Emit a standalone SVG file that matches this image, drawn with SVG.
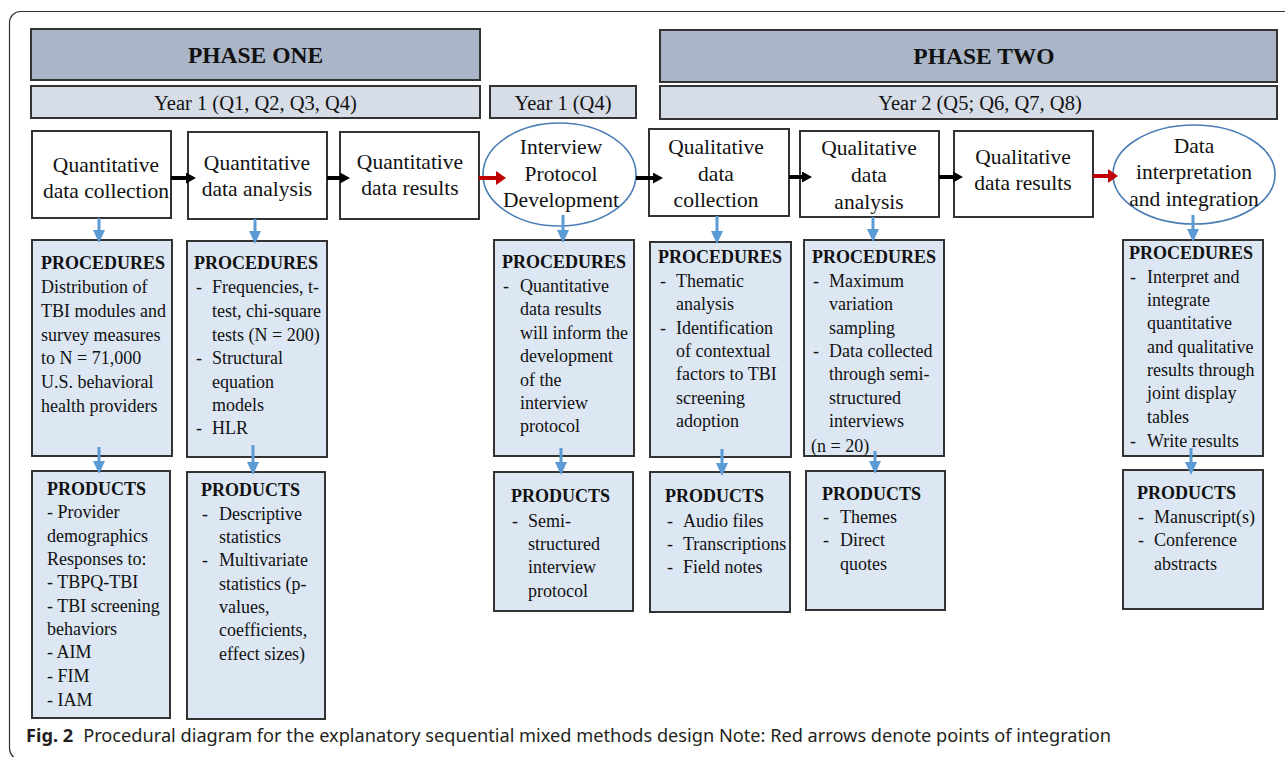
<svg xmlns="http://www.w3.org/2000/svg" width="1285" height="757" viewBox="0 0 1285 757">
<style>
.t{font-family:"Liberation Serif","Times New Roman",serif;fill:#111}
.hd{font-size:23.5px;font-weight:bold;text-anchor:middle}
.yr{font-size:20.5px;text-anchor:middle}
.nd{font-size:21.5px;text-anchor:middle}
.bx{font-size:18px}
.b{font-weight:bold}
.phase{fill:#aab6c8;stroke:#333;stroke-width:2}
.year{fill:#d6dde7;stroke:#333;stroke-width:2}
.node{fill:#fff;stroke:#333;stroke-width:2}
.ell{fill:#fff;stroke:#4a7db5;stroke-width:1.6}
.pb{fill:#dce7f3;stroke:#333;stroke-width:2}
.ka{stroke:#000;stroke-width:4;fill:none}
.ra{stroke:#c00000;stroke-width:4;fill:none}
.ba{stroke:#5b9bd5;stroke-width:3;fill:none}
.cap{font-family:"Noto Sans","Open Sans",sans-serif;font-size:18.2px;fill:#231f20}
</style>
<defs>
<marker id="mk" markerUnits="userSpaceOnUse" markerWidth="10" markerHeight="11" refX="0" refY="5.5" orient="auto"><path d="M0,0 L10,5.5 L0,11 z" fill="#000"/></marker>
<marker id="mr" markerUnits="userSpaceOnUse" markerWidth="10" markerHeight="14" refX="0" refY="7" orient="auto"><path d="M0,0 L10,7 L0,14 z" fill="#c00000"/></marker>
<marker id="mb" markerUnits="userSpaceOnUse" markerWidth="13" markerHeight="12" refX="0" refY="6" orient="auto"><path d="M0,0 L13,6 L0,12 z" fill="#5b9bd5"/></marker>
</defs>
<rect width="1285" height="757" fill="#fff"/>
<rect x="9.5" y="11.5" width="1300" height="748" rx="11" fill="none" stroke="#333" stroke-width="1.2"/>

<g id="phase-one"><rect class="phase" x="31" y="29" width="449" height="51"/><text class="t hd" x="255.5" y="63">PHASE ONE</text></g>
<g id="year1"><rect class="year" x="31" y="86" width="449" height="32"/><text class="t yr" x="255.5" y="110">Year 1 (Q1, Q2, Q3, Q4)</text></g>
<g id="year1-q4"><rect class="year" x="490" y="86" width="146" height="32"/><text class="t yr" x="563" y="110">Year 1 (Q4)</text></g>
<g id="phase-two"><rect class="phase" x="660" y="30" width="617" height="52"/><text class="t hd" x="984" y="64">PHASE TWO</text></g>
<g id="year2"><rect class="year" x="660" y="86" width="617" height="33"/><text class="t yr" x="980" y="110">Year 2 (Q5; Q6, Q7, Q8)</text></g>

<g id="quant-collection"><rect class="node" x="32" y="131" width="139" height="87"/><text class="t nd" x="106" y="172">Quantitative</text><text class="t nd" x="106" y="198">data collection</text></g>
<g id="quant-analysis"><rect class="node" x="188" y="132" width="139" height="87"/><text class="t nd" x="257" y="170">Quantitative</text><text class="t nd" x="257" y="196">data analysis</text></g>
<g id="quant-results"><rect class="node" x="340" y="132" width="139" height="87"/><text class="t nd" x="410" y="169">Quantitative</text><text class="t nd" x="410" y="195">data results</text></g>
<g id="interview-protocol"><ellipse class="ell" cx="559.5" cy="174.5" rx="76.5" ry="51.5"/><text class="t nd" x="561" y="154">Interview</text><text class="t nd" x="561" y="181">Protocol</text><text class="t nd" x="561" y="207">Development</text></g>
<g id="qual-collection"><rect class="node" x="649" y="129" width="140" height="87"/><text class="t nd" x="716" y="154">Qualitative</text><text class="t nd" x="716" y="181">data</text><text class="t nd" x="716" y="207">collection</text></g>
<g id="qual-analysis"><rect class="node" x="800" y="131" width="139" height="86"/><text class="t nd" x="869" y="155">Qualitative</text><text class="t nd" x="869" y="182">data</text><text class="t nd" x="869" y="209">analysis</text></g>
<g id="qual-results"><rect class="node" x="954" y="131" width="139" height="86"/><text class="t nd" x="1023" y="164">Qualitative</text><text class="t nd" x="1023" y="190">data results</text></g>
<g id="interpretation"><ellipse class="ell" cx="1194" cy="174.5" rx="81" ry="49.5"/><text class="t nd" x="1194" y="153">Data</text><text class="t nd" x="1194" y="179">interpretation</text><text class="t nd" x="1194" y="206">and integration</text></g>

<g id="proc1"><rect class="pb" x="32" y="240" width="140" height="216"/>
<text class="t bx"><tspan class="b" x="41" y="269">PROCEDURES</tspan><tspan x="41" y="293">Distribution of</tspan><tspan x="41" y="317">TBI modules and</tspan><tspan x="41" y="341">survey measures</tspan><tspan x="41" y="364">to N = 71,000</tspan><tspan x="41" y="388">U.S. behavioral</tspan><tspan x="41" y="412">health providers</tspan></text></g>
<g id="proc2"><rect class="pb" x="187" y="241" width="140" height="216"/>
<text class="t bx"><tspan class="b" x="194" y="269">PROCEDURES</tspan><tspan x="196" y="293">-</tspan><tspan x="212" y="293">Frequencies, t-</tspan><tspan x="212" y="317">test, chi-square</tspan><tspan x="212" y="341">tests (N = 200)</tspan><tspan x="196" y="364">-</tspan><tspan x="212" y="364">Structural</tspan><tspan x="212" y="388">equation</tspan><tspan x="212" y="411">models</tspan><tspan x="196" y="434">-</tspan><tspan x="212" y="434">HLR</tspan></text></g>
<g id="proc3"><rect class="pb" x="494" y="240" width="140" height="216"/>
<text class="t bx"><tspan class="b" x="502" y="268">PROCEDURES</tspan><tspan x="503" y="292">-</tspan><tspan x="520" y="292">Quantitative</tspan><tspan x="520" y="315">data results</tspan><tspan x="520" y="339">will inform the</tspan><tspan x="520" y="362">development</tspan><tspan x="520" y="386">of the</tspan><tspan x="520" y="409">interview</tspan><tspan x="520" y="432">protocol</tspan></text></g>
<g id="proc4"><rect class="pb" x="650" y="242" width="141" height="215"/>
<text class="t bx"><tspan class="b" x="658" y="263">PROCEDURES</tspan><tspan x="660" y="287">-</tspan><tspan x="676" y="287">Thematic</tspan><tspan x="676" y="310">analysis</tspan><tspan x="660" y="334">-</tspan><tspan x="676" y="334">Identification</tspan><tspan x="676" y="357">of contextual</tspan><tspan x="676" y="380">factors to TBI</tspan><tspan x="676" y="404">screening</tspan><tspan x="676" y="427">adoption</tspan></text></g>
<g id="proc5"><rect class="pb" x="804" y="240" width="140" height="216"/>
<text class="t bx"><tspan class="b" x="812" y="263">PROCEDURES</tspan><tspan x="813" y="287">-</tspan><tspan x="829" y="287">Maximum</tspan><tspan x="829" y="310">variation</tspan><tspan x="829" y="334">sampling</tspan><tspan x="813" y="357">-</tspan><tspan x="829" y="357">Data collected</tspan><tspan x="829" y="380">through semi-</tspan><tspan x="829" y="404">structured</tspan><tspan x="829" y="427">interviews</tspan><tspan x="811" y="452">(n = 20)</tspan></text></g>
<g id="proc6"><rect class="pb" x="1123" y="240" width="140" height="216"/>
<text class="t bx"><tspan class="b" x="1129" y="259">PROCEDURES</tspan><tspan x="1130" y="283">-</tspan><tspan x="1147" y="283">Interpret and</tspan><tspan x="1147" y="306">integrate</tspan><tspan x="1147" y="329">quantitative</tspan><tspan x="1147" y="353">and qualitative</tspan><tspan x="1147" y="376">results through</tspan><tspan x="1147" y="399">joint display</tspan><tspan x="1147" y="423">tables</tspan><tspan x="1130" y="447">-</tspan><tspan x="1147" y="447">Write results</tspan></text></g>

<g id="prod1"><rect class="pb" x="32" y="471" width="138" height="247"/>
<text class="t bx"><tspan class="b" x="47" y="495">PRODUCTS</tspan><tspan x="47" y="518">- Provider</tspan><tspan x="47" y="542">demographics</tspan><tspan x="47" y="565">Responses to:</tspan><tspan x="47" y="588">- TBPQ-TBI</tspan><tspan x="47" y="612">- TBI screening</tspan><tspan x="47" y="635">behaviors</tspan><tspan x="47" y="658">- AIM</tspan><tspan x="47" y="682">- FIM</tspan><tspan x="47" y="706">- IAM</tspan></text></g>
<g id="prod2"><rect class="pb" x="187" y="472" width="138" height="247"/>
<text class="t bx"><tspan class="b" x="201" y="496">PRODUCTS</tspan><tspan x="202" y="520">-</tspan><tspan x="219" y="520">Descriptive</tspan><tspan x="219" y="543">statistics</tspan><tspan x="202" y="566">-</tspan><tspan x="219" y="566">Multivariate</tspan><tspan x="219" y="590">statistics (p-</tspan><tspan x="219" y="613">values,</tspan><tspan x="219" y="636">coefficients,</tspan><tspan x="219" y="660">effect sizes)</tspan></text></g>
<g id="prod3"><rect class="pb" x="494" y="472" width="139" height="139"/>
<text class="t bx"><tspan class="b" x="511" y="502">PRODUCTS</tspan><tspan x="512" y="527">-</tspan><tspan x="528" y="527">Semi-</tspan><tspan x="528" y="550">structured</tspan><tspan x="528" y="573">interview</tspan><tspan x="528" y="597">protocol</tspan></text></g>
<g id="prod4"><rect class="pb" x="650" y="472" width="140" height="140"/>
<text class="t bx"><tspan class="b" x="665" y="502">PRODUCTS</tspan><tspan x="667" y="527">-</tspan><tspan x="683" y="527">Audio files</tspan><tspan x="667" y="550">-</tspan><tspan x="683" y="550">Transcriptions</tspan><tspan x="667" y="573">-</tspan><tspan x="683" y="573">Field notes</tspan></text></g>
<g id="prod5"><rect class="pb" x="806" y="471" width="139" height="139"/>
<text class="t bx"><tspan class="b" x="822" y="500">PRODUCTS</tspan><tspan x="823" y="523">-</tspan><tspan x="840" y="523">Themes</tspan><tspan x="823" y="546">-</tspan><tspan x="840" y="546">Direct</tspan><tspan x="840" y="570">quotes</tspan></text></g>
<g id="prod6"><rect class="pb" x="1123" y="470" width="140" height="139"/>
<text class="t bx"><tspan class="b" x="1137" y="499">PRODUCTS</tspan><tspan x="1138" y="523">-</tspan><tspan x="1154" y="523">Manuscript(s)</tspan><tspan x="1138" y="546">-</tspan><tspan x="1154" y="546">Conference</tspan><tspan x="1154" y="570">abstracts</tspan></text></g>

<g id="connectors">
<line class="ka" x1="171" y1="178" x2="186" y2="178" marker-end="url(#mk)"/>
<line class="ka" x1="327" y1="178" x2="340" y2="178" marker-end="url(#mk)"/>
<line class="ra" x1="479" y1="178" x2="496" y2="178" marker-end="url(#mr)"/>
<line class="ka" x1="636" y1="178" x2="653" y2="178" marker-end="url(#mk)"/>
<line class="ka" x1="789" y1="177" x2="802" y2="177" marker-end="url(#mk)"/>
<line class="ka" x1="939" y1="177" x2="953" y2="177" marker-end="url(#mk)"/>
<line class="ra" x1="1093" y1="176" x2="1108" y2="176" marker-end="url(#mr)"/>
<line class="ba" x1="99" y1="218" x2="99" y2="230" marker-end="url(#mb)"/>
<line class="ba" x1="255" y1="219" x2="255" y2="231" marker-end="url(#mb)"/>
<line class="ba" x1="563" y1="215" x2="563" y2="230" marker-end="url(#mb)"/>
<line class="ba" x1="717" y1="216" x2="717" y2="231" marker-end="url(#mb)"/>
<line class="ba" x1="873" y1="217" x2="873" y2="229" marker-end="url(#mb)"/>
<line class="ba" x1="1193" y1="215" x2="1193" y2="229" marker-end="url(#mb)"/>
<line class="ba" x1="99" y1="447" x2="99" y2="461" marker-end="url(#mb)"/>
<line class="ba" x1="253" y1="445" x2="253" y2="462" marker-end="url(#mb)"/>
<line class="ba" x1="561" y1="448" x2="561" y2="462" marker-end="url(#mb)"/>
<line class="ba" x1="722" y1="449" x2="722" y2="463" marker-end="url(#mb)"/>
<line class="ba" x1="875" y1="451" x2="875" y2="461" marker-end="url(#mb)"/>
<line class="ba" x1="1191" y1="448" x2="1191" y2="462" marker-end="url(#mb)"/>
</g>

<text class="cap" x="26" y="742"><tspan font-weight="bold">Fig. 2</tspan><tspan dx="10">Procedural diagram for the explanatory sequential mixed methods design Note: Red arrows denote points of integration</tspan></text>
</svg>
